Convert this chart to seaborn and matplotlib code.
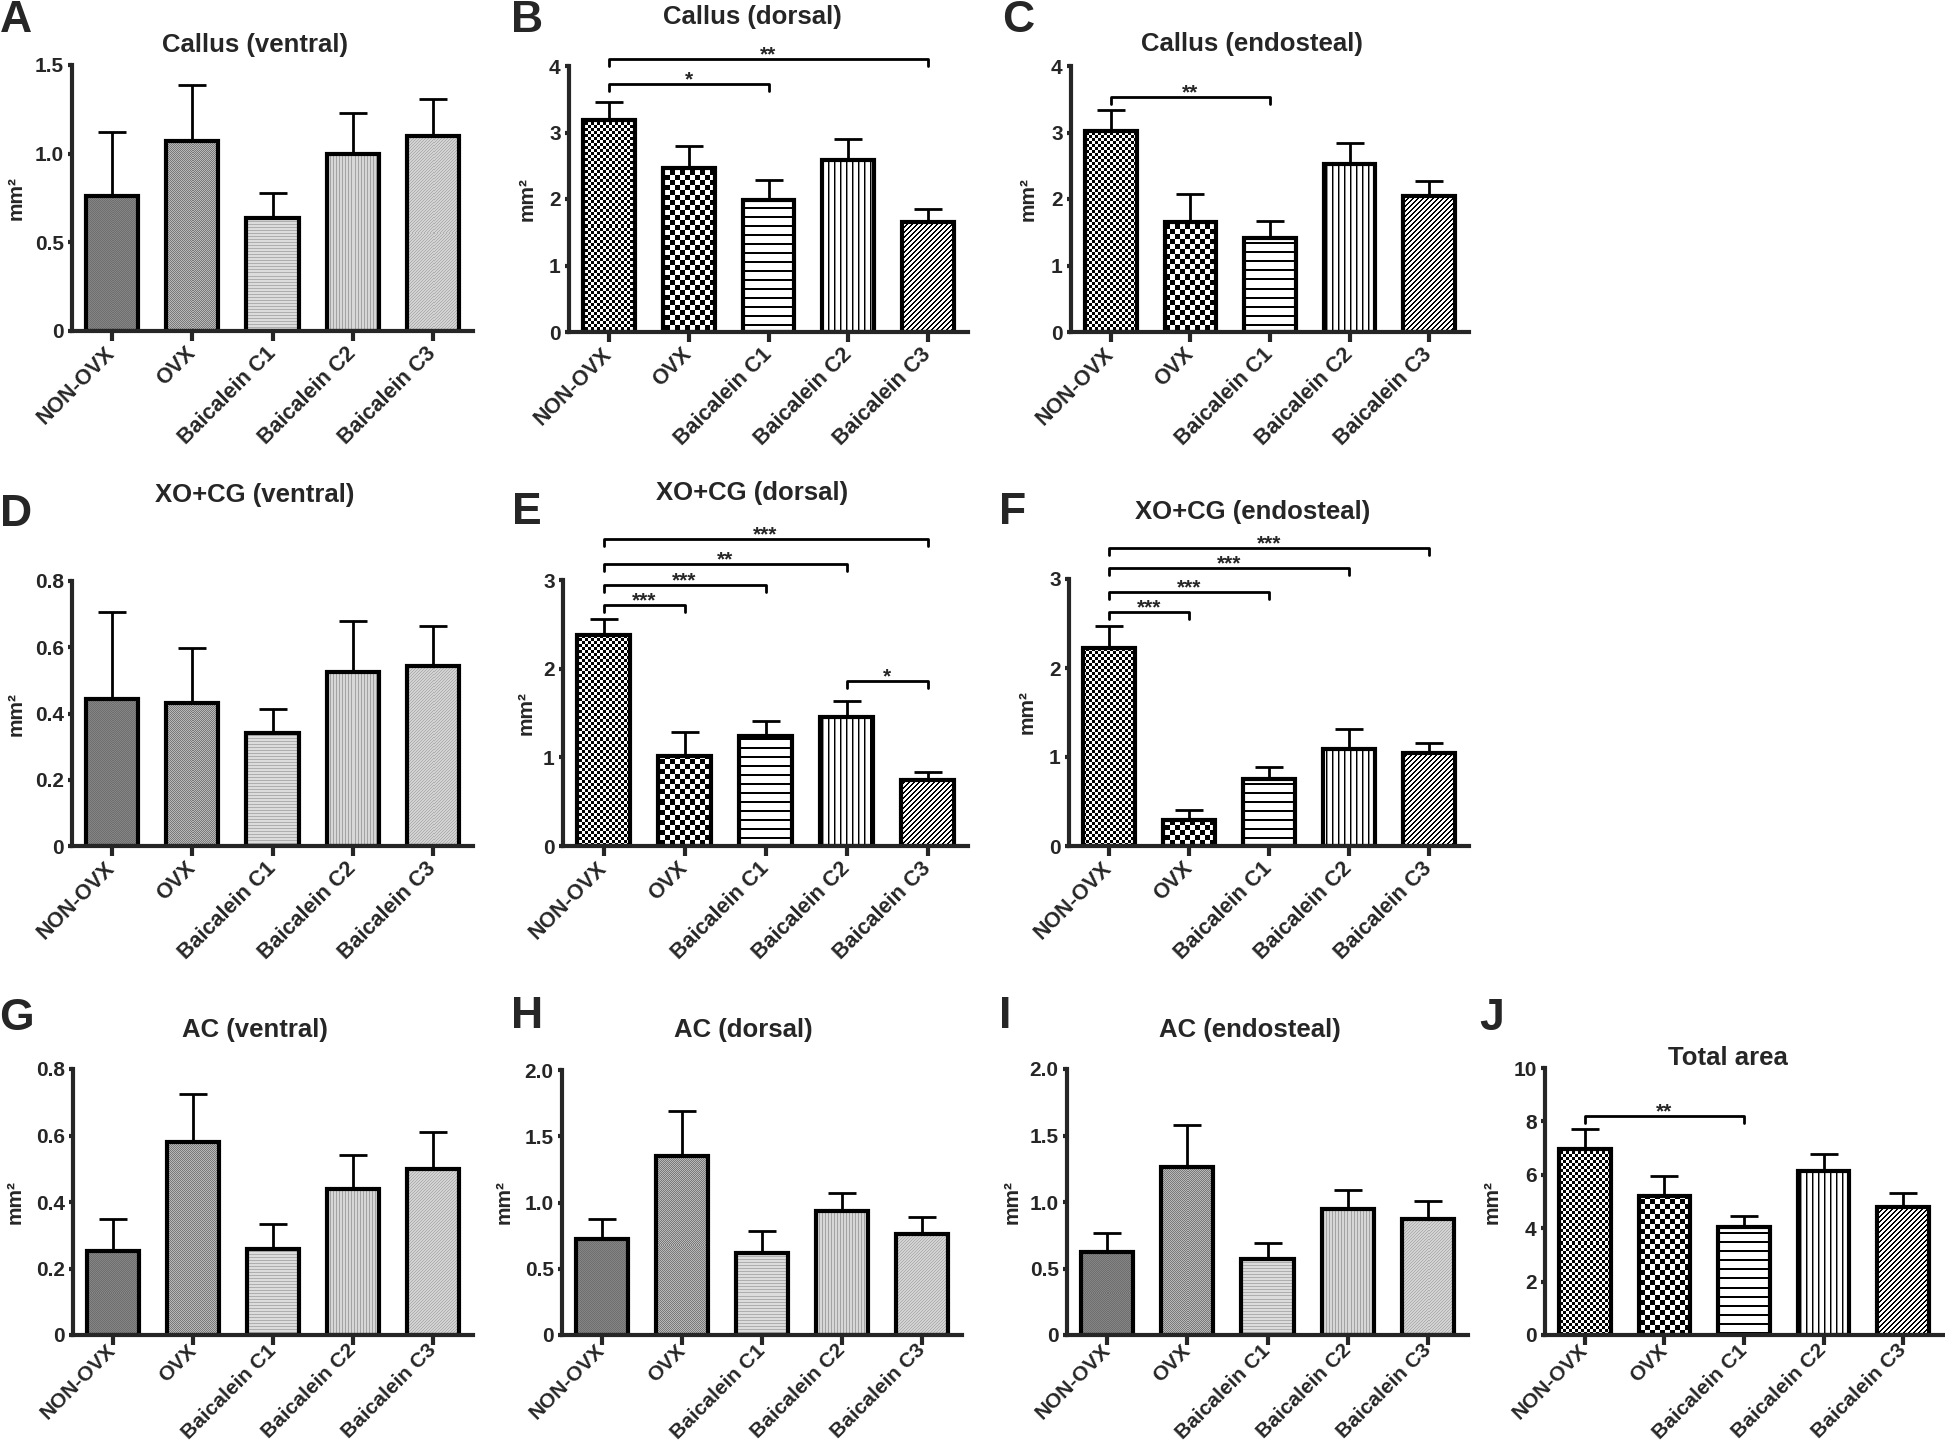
import numpy as np
import matplotlib
matplotlib.use("Agg")
import matplotlib.pyplot as plt
import seaborn as sns

# --------------------------------
# Data (mean + SEM, mm2)
# --------------------------------
groups = ["NON-OVX", "OVX", "Baicalein C1", "Baicalein C2", "Baicalein C3"]

callus_ventral = [0.76, 1.07, 0.64, 1.00, 1.10]
callus_ventral_sem = [0.36, 0.32, 0.14, 0.23, 0.21]
callus_dorsal = [3.19, 2.46, 1.98, 2.59, 1.65]
callus_dorsal_sem = [0.27, 0.34, 0.31, 0.31, 0.20]
callus_endo = [3.02, 1.66, 1.42, 2.52, 2.04]
callus_endo_sem = [0.32, 0.41, 0.25, 0.32, 0.23]

xocg_ventral = [0.443, 0.431, 0.340, 0.524, 0.543]
xocg_ventral_sem = [0.264, 0.166, 0.074, 0.156, 0.120]
xocg_dorsal = [2.38, 1.02, 1.24, 1.45, 0.74]
xocg_dorsal_sem = [0.175, 0.263, 0.166, 0.188, 0.095]
xocg_endo = [2.22, 0.29, 0.75, 1.09, 1.04]
xocg_endo_sem = [0.252, 0.120, 0.143, 0.229, 0.120]

ac_ventral = [0.254, 0.579, 0.258, 0.440, 0.499]
ac_ventral_sem = [0.095, 0.146, 0.075, 0.102, 0.113]
ac_dorsal = [0.722, 1.353, 0.621, 0.936, 0.760]
ac_dorsal_sem = [0.151, 0.337, 0.166, 0.138, 0.133]
ac_endo = [0.627, 1.260, 0.572, 0.951, 0.871]
ac_endo_sem = [0.138, 0.318, 0.118, 0.141, 0.138]

total_area = [6.98, 5.21, 4.06, 6.13, 4.78]
total_area_sem = [0.73, 0.73, 0.40, 0.65, 0.52]

# significance brackets: (group a, group b, height, stars)
callus_dorsal_sig = [(0, 2, 3.73, "*"), (0, 4, 4.10, "**")]
callus_endo_sig = [(0, 2, 3.53, "**")]
xocg_dorsal_sig = [(0, 1, 2.72, "***"), (0, 2, 2.94, "***"), (0, 3, 3.18, "**"),
                   (0, 4, 3.46, "***"), (3, 4, 1.86, "*")]
xocg_endo_sig = [(0, 1, 2.63, "***"), (0, 2, 2.85, "***"), (0, 3, 3.12, "***"),
                 (0, 4, 3.35, "***")]
total_area_sig = [(0, 2, 8.2, "**")]

# y ticks
ticks_15 = [0, 0.5, 1.0, 1.5]
labels_15 = ["0", "0.5", "1.0", "1.5"]
ticks_4 = [0, 1, 2, 3, 4]
labels_4 = ["0", "1", "2", "3", "4"]
ticks_08 = [0, 0.2, 0.4, 0.6, 0.8]
labels_08 = ["0", "0.2", "0.4", "0.6", "0.8"]
ticks_3 = [0, 1, 2, 3]
labels_3 = ["0", "1", "2", "3"]
ticks_2 = [0, 0.5, 1.0, 1.5, 2.0]
labels_2 = ["0", "0.5", "1.0", "1.5", "2.0"]
ticks_10 = [0, 2, 4, 6, 8, 10]
labels_10 = ["0", "2", "4", "6", "8", "10"]

panels = [
    ("A", "Callus (ventral)", callus_ventral, callus_ventral_sem, ticks_15, labels_15, "grey", []),
    ("B", "Callus (dorsal)", callus_dorsal, callus_dorsal_sem, ticks_4, labels_4, "bw", callus_dorsal_sig),
    ("C", "Callus (endosteal)", callus_endo, callus_endo_sem, ticks_4, labels_4, "bw", callus_endo_sig),
    ("D", "XO+CG (ventral)", xocg_ventral, xocg_ventral_sem, ticks_08, labels_08, "grey", []),
    ("E", "XO+CG (dorsal)", xocg_dorsal, xocg_dorsal_sem, ticks_3, labels_3, "bw", xocg_dorsal_sig),
    ("F", "XO+CG (endosteal)", xocg_endo, xocg_endo_sem, ticks_3, labels_3, "bw", xocg_endo_sig),
    ("G", "AC (ventral)", ac_ventral, ac_ventral_sem, ticks_08, labels_08, "grey", []),
    ("H", "AC (dorsal)", ac_dorsal, ac_dorsal_sem, ticks_2, labels_2, "grey", []),
    ("I", "AC (endosteal)", ac_endo, ac_endo_sem, ticks_2, labels_2, "grey", []),
    ("J", "Total area", total_area, total_area_sem, ticks_10, labels_10, "bw", total_area_sig),
]

# --------------------------------
# Layout (pixels on a 1945 x 1448 canvas)
# --------------------------------
W, H = 1945, 1448
# axes box: left, top, right, bottom
boxes = [(72, 65, 473, 331), (569, 66, 968, 332), (1071, 66, 1469, 332),
         (72, 581, 473, 846), (563, 580, 968, 846), (1069, 579, 1469, 846),
         (73, 1069, 473, 1335), (562, 1070, 962, 1335), (1067, 1069, 1468, 1335),
         (1545, 1068, 1943, 1335)]
title_xy = [(255, 45), (752, 17), (1252, 44), (255, 495), (752, 493), (1253, 512),
            (255, 1030), (743, 1030), (1250, 1030), (1728, 1058)]
letter_xy = [(16, 21), (527, 20), (1018, 20), (16, 514), (527, 513), (1013, 513),
             (16, 1018), (527, 1017), (1005, 1017), (1492, 1018)]
ylabel_x = [-0.115, -0.08, -0.085, -0.115, -0.067, -0.08, -0.12, -0.122, -0.112, -0.108]


def texture(kind, style, I, J):
    # bar fill patterns (0 = black, 1 = white)
    if style == "bw":
        if kind == 0:
            return ((I // 3 + J // 3) % 2).astype(float)
        if kind == 1:
            return ((I // 5 + J // 5) % 2).astype(float)
        if kind == 2:
            return np.where(I % 9 < 2, 0.0, 1.0)
        if kind == 3:
            return np.where(J % 6 == 0, 0.0, np.where(J % 6 == 1, 0.55, 1.0))
        return np.where((I + J) % 5 < 2, 0.0, 1.0)
    if kind == 0:
        return 0.43 + 0.09 * ((I + J) % 2)
    if kind == 1:
        return 0.48 + 0.24 * ((I + J) % 2)
    if kind == 2:
        return np.where(I % 3 == 0, 0.68, 0.86)
    if kind == 3:
        return np.where(J % 3 == 0, 0.64, 0.84)
    return np.where((I + J) % 3 == 0, 0.68, 0.83)


sns.set_style("ticks")
plt.rcParams["font.family"] = ["Liberation Sans", "DejaVu Sans"]
plt.rcParams["font.weight"] = "bold"
plt.rcParams["axes.labelweight"] = "bold"

fig = plt.figure(figsize=(W / 100, H / 100), dpi=100)

for k, (letter, title, mean, sem, yt, yl, style, sig) in enumerate(panels):
    left, top, right, bottom = boxes[k]
    ax = fig.add_axes([left / W, 1 - bottom / H, (right - left) / W, (bottom - top) / H])

    sns.barplot(x=groups, y=mean, ax=ax, color="white", width=0.65,
                edgecolor="black", linewidth=3, saturation=1)
    xlim = (-0.5, 4.5)
    ylim = (0, yt[-1])
    ax.set_xlim(xlim)
    ax.set_ylim(ylim)

    # fill every bar with its texture, clipped to the bar
    for i, patch in enumerate(list(ax.patches)):
        x0, y0 = patch.get_x(), patch.get_y()
        x1, y1 = x0 + patch.get_width(), y0 + patch.get_height()
        (px0, py1), (px1, py0) = ax.transData.transform([(x0, y1), (x1, y0)])
        w = max(int(round(px1 - px0)), 1)
        h = max(int(round(py1 - py0)), 1)
        r0 = int(round(H - py1))
        c0 = int(round(px0))
        I, J = np.mgrid[r0:r0 + h, c0:c0 + w]
        tex = texture(i, style, I, J)
        im = ax.imshow(tex, cmap="gray", vmin=0, vmax=1, extent=(x0, x1, y0, y1),
                       aspect="auto", interpolation="nearest", zorder=0.5)
        im.set_clip_path(patch)
        patch.set_facecolor("none")
    ax.set_xlim(xlim)
    ax.set_ylim(ylim)

    # mean + SEM (upper only)
    xpos = np.arange(len(groups))
    ax.errorbar(xpos, mean, yerr=[np.zeros(len(sem)), sem], fmt="none",
                ecolor="black", elinewidth=2, capsize=10, capthick=2, zorder=3)

    # significance brackets
    d = 0.026 * yt[-1]
    for a, b, yb, stars in sig:
        ax.plot([a, a, b, b], [yb - d, yb, yb, yb - d], color="black", lw=2,
                clip_on=False, zorder=4)
        ax.annotate(stars, xy=((a + b) / 2, yb), xytext=(0, 3), textcoords="offset points",
                    ha="center", va="center", fontsize=15, fontweight="bold",
                    annotation_clip=False)

    # bottom row sits at the page edge: labels a bit tighter there
    last_row = bottom > 1000
    sns.despine(ax=ax)
    for s in ["left", "bottom"]:
        ax.spines[s].set_linewidth(3)
    ax.set_yticks(yt)
    ax.set_yticklabels(yl, fontsize=15, fontweight="bold")
    ax.set_xticks(xpos)
    ax.set_xticklabels(groups, fontsize=15 if last_row else 15.5, fontweight="bold",
                       rotation=45, ha="right", va="center", rotation_mode="anchor")
    ax.tick_params(axis="y", length=3, width=3, pad=3)
    ax.tick_params(axis="x", length=7, width=3, pad=2 if last_row else 7)
    ax.set_ylabel("mm²", fontsize=15, fontweight="bold")
    ax.yaxis.set_label_coords(ylabel_x[k], 0.5)
    ax.set_xlabel("")

    fig.text(title_xy[k][0] / W, 1 - title_xy[k][1] / H, title, ha="center", va="center",
             fontsize=18.5, fontweight="bold")
    fig.text(letter_xy[k][0] / W, 1 - letter_xy[k][1] / H, letter, ha="center", va="center",
             fontsize=32, fontweight="bold")

fig.savefig("out.png", dpi=100)
